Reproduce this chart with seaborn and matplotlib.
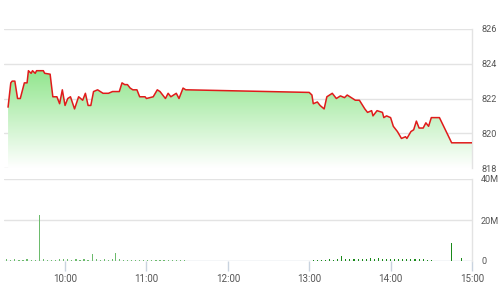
import numpy as np
import pandas as pd
import matplotlib
matplotlib.use("Agg")
import matplotlib.pyplot as plt
import seaborn as sns
from matplotlib.colors import LinearSegmentedColormap

# ---------------- data ----------------
price_times = ["09:18", "09:20", "09:21", "09:23", "09:25", "09:27", "09:30", "09:32",
               "09:33", "09:35", "09:36", "09:38", "09:39", "09:44", "09:45", "09:49",
               "09:51", "09:54", "09:56", "09:58", "10:00", "10:02", "10:04", "10:07",
               "10:10", "10:13", "10:15", "10:17", "10:19", "10:21", "10:24", "10:28",
               "10:32", "10:35", "10:40", "10:42", "10:44", "10:46", "10:48", "10:50",
               "10:53", "10:55", "10:59", "11:00", "11:05", "11:08", "11:10", "11:14",
               "11:16", "11:18", "11:22", "11:24", "11:27", "11:29", "11:30",
               "13:00", "13:02", "13:03", "13:06", "13:08", "13:11", "13:13", "13:17",
               "13:20", "13:23", "13:26", "13:28", "13:30", "13:34", "13:37", "13:41",
               "13:43", "13:46", "13:47", "13:50", "13:54", "13:55", "13:57", "14:00",
               "14:02", "14:05", "14:08", "14:11", "14:12", "14:15", "14:17", "14:19",
               "14:21", "14:24", "14:26", "14:28", "14:30", "14:36", "14:45", "15:00"]
price_values = [821.5, 822.9, 823.0, 823.0, 822.0, 822.0, 822.9, 822.9,
                823.6, 823.45, 823.6, 823.45, 823.6, 823.6, 823.45, 823.4,
                822.1, 822.1, 821.7, 822.5, 821.6, 822.0, 822.1, 821.4,
                822.1, 821.9, 822.3, 821.6, 821.6, 822.4, 822.5, 822.3,
                822.3, 822.4, 822.4, 822.9, 822.8, 822.8, 822.6, 822.5,
                822.5, 822.1, 822.1, 822.0, 822.1, 822.5, 822.4, 822.0,
                822.3, 822.1, 822.3, 822.0, 822.6, 822.5, 822.5,
                822.35, 822.2, 821.7, 821.8, 821.6, 821.4, 822.1, 822.3,
                822.0, 822.15, 822.05, 822.2, 822.1, 821.9, 821.9, 821.4,
                821.2, 821.3, 821.0, 821.3, 821.2, 820.9, 821.0, 820.9,
                820.4, 820.1, 819.7, 819.8, 819.7, 820.1, 820.2, 820.7,
                820.3, 820.3, 820.6, 820.4, 820.9, 820.9, 819.45, 819.45]

vol_am_times = ["09:17", "09:20", "09:23", "09:26", "09:29", "09:32", "09:35", "09:38",
                "09:41", "09:44", "09:47", "09:50", "09:53", "09:56", "09:59", "10:02",
                "10:05", "10:08", "10:11", "10:14", "10:17", "10:20", "10:23", "10:26",
                "10:29", "10:32", "10:35", "10:37", "10:40", "10:43", "10:46", "10:49",
                "10:52", "10:55", "10:58", "11:01", "11:04", "11:07", "11:10", "11:13",
                "11:16", "11:19", "11:22", "11:25", "11:28"]
vol_am_values = [0.8, 0.6, 0.9, 0.7, 0.5, 0.8, 0.6, 0.7,
                 22.5, 0.9, 0.7, 0.5, 0.6, 0.8, 0.9, 1.0,
                 0.7, 0.9, 0.6, 0.8, 0.7, 3.2, 0.8, 0.6,
                 0.9, 0.7, 0.8, 4.0, 0.9, 0.6, 0.7, 0.5,
                 0.6, 0.7, 0.5, 0.6, 0.5, 0.7, 0.6, 0.5,
                 0.6, 0.7, 0.6, 0.5, 0.6]

vol_pm_times = ["13:03", "13:06", "13:09", "13:12", "13:15", "13:18", "13:21", "13:24",
                "13:27", "13:30", "13:33", "13:36", "13:39", "13:42", "13:45", "13:48",
                "13:51", "13:54", "13:57", "14:00", "14:03", "14:06", "14:09", "14:12",
                "14:15", "14:18", "14:21", "14:24", "14:27", "14:30", "14:45", "14:52"]
vol_pm_values = [0.6, 0.5, 0.7, 0.6, 0.8, 0.7, 0.9, 2.3,
                 0.8, 0.9, 1.0, 0.9, 1.2, 1.0, 1.4, 1.2,
                 1.3, 0.9, 1.0, 1.1, 0.9, 1.0, 0.8, 0.9,
                 1.0, 0.9, 0.8, 0.9, 0.7, 0.6, 8.7, 1.7]

price_ticks = [818, 820, 822, 824, 826]
vol_ticks = [0, 20, 40]
vol_tick_labels = ["0", "20M", "40M"]
time_ticks = ["10:00", "11:00", "12:00", "13:00", "14:00", "15:00"]


def to_min(s):
    h, m = s.split(":")
    return (int(h) - 9) * 60 + int(m)


# ---------------- styling ----------------
sns.set_theme(style="white")
plt.rcParams["font.family"] = ["Roboto", "DejaVu Sans"]

grid_c = "#e3e3e3"
axis_c = "#c9d3df"
text_c = "#555555"

fig = plt.figure(figsize=(5.01, 3.0), dpi=100)
ax1 = fig.add_axes([4 / 501, 1 - 168 / 300, 468 / 501, 139 / 300])
ax2 = fig.add_axes([4 / 501, 1 - 261 / 300, 468 / 501, 82 / 300])

xmin, xmax = 15, 360

# ---- price panel ----
df = pd.DataFrame({"t": [to_min(s) for s in price_times], "p": price_values})
poly = ax1.fill_between(df["t"], df["p"], 818, color="none", lw=0)
cmap = LinearSegmentedColormap.from_list("g", ["#ffffff", "#8fe58b"])
grad = np.linspace(0, 1, 256).reshape(-1, 1)
im = ax1.imshow(grad, extent=[xmin, xmax, 818, 823.7], origin="lower",
                aspect="auto", cmap=cmap, zorder=1)
im.set_clip_path(poly.get_paths()[0], transform=ax1.transData)
sns.lineplot(data=df, x="t", y="p", ax=ax1, color="#e01b1b", lw=1.1,
             estimator=None, zorder=3)

ax1.set_xlim(xmin, xmax)
ax1.set_ylim(818, 826)
ax1.set_yticks(price_ticks)
ax1.set_xticks([])
for y in price_ticks:
    ax1.axhline(y, color=grid_c, lw=1, zorder=0)

# ---- volume panel ----
am = pd.DataFrame({"t": [to_min(s) for s in vol_am_times], "v": vol_am_values})
pm = pd.DataFrame({"t": [to_min(s) for s in vol_pm_times], "v": vol_pm_values})
ax2.bar(am["t"], am["v"], width=0.9, color="#6dbb6d", lw=0, zorder=3)
ax2.bar(pm["t"], pm["v"], width=0.8, color="#1a8a1a", lw=0, zorder=3)
ax2.set_xlim(xmin, xmax)
ax2.set_ylim(0, 40)
ax2.set_yticks(vol_ticks)
ax2.set_yticklabels(vol_tick_labels)
for y in [20, 40]:
    ax2.axhline(y, color=grid_c, lw=1, zorder=0)
ax2.axhline(0, color=axis_c, lw=1, zorder=2)
ax2.set_xticks([to_min(s) for s in time_ticks])
ax2.set_xticklabels(time_ticks)

for ax in (ax1, ax2):
    ax.set_xlabel("")
    ax.set_ylabel("")
    ax.set_facecolor("none")
    for s in ("top", "left", "bottom"):
        ax.spines[s].set_visible(False)
    ax.spines["right"].set_color(grid_c)
    ax.spines["right"].set_linewidth(1)
    ax.yaxis.tick_right()
    ax.tick_params(axis="y", length=0, pad=6.5, labelsize=6.6, labelcolor=text_c)
    for lab in ax.get_yticklabels():
        lab.set_ha("left")

ax2.tick_params(axis="x", length=7, width=1, color=axis_c, pad=2,
                labelsize=7, labelcolor=text_c, bottom=True)

fig.savefig("out.png", dpi=100)
